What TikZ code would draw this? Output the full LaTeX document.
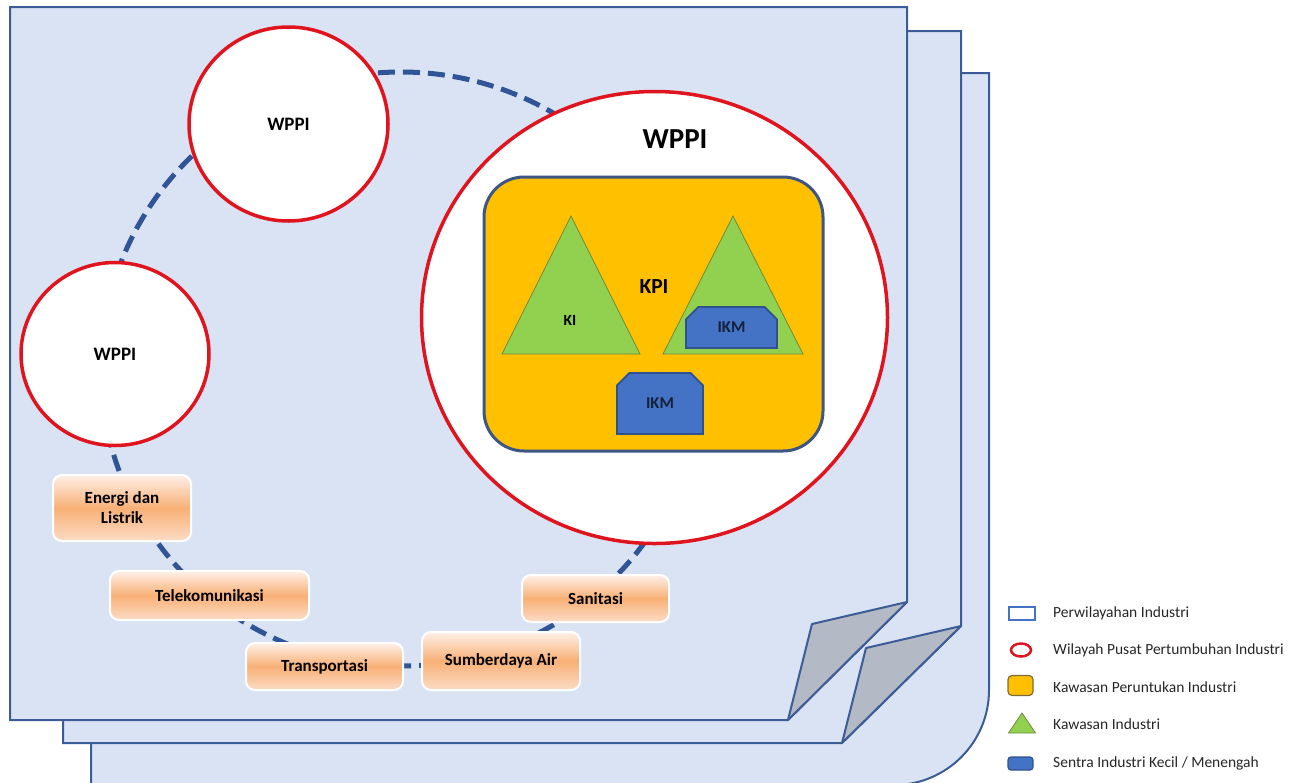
\documentclass[tikz,border=0pt]{standalone}
\usepackage{fontspec}
\setmainfont{Carlito}
\usetikzlibrary{shapes.geometric,shapes.misc}
\definecolor{pagefill}{HTML}{DAE3F3}
\definecolor{pageline}{HTML}{3B5C96}
\definecolor{flapfill}{HTML}{B4BAC5}
\definecolor{wppired}{HTML}{E0141E}
\definecolor{dashblue}{HTML}{2F5597}
\definecolor{kpiorange}{HTML}{FFC000}
\definecolor{kpiline}{HTML}{3E5684}
\definecolor{kigreen}{HTML}{92D050}
\definecolor{kiline}{HTML}{6E8B3D}
\definecolor{ikmblue}{HTML}{4472C4}
\definecolor{ikmline}{HTML}{2F528F}
\definecolor{ikmtext}{HTML}{15203A}
\definecolor{infratop}{HTML}{FEF0E8}
\definecolor{inframid}{HTML}{F8B076}
\definecolor{infrabot}{HTML}{FCDCC6}
\definecolor{legendgrey}{HTML}{262626}
\definecolor{legendbrown}{HTML}{7F6A3A}
\begin{document}
\begin{tikzpicture}[x=1pt,y=-1pt,
  sheet/.style={fill=pagefill,draw=pageline,line width=2pt,line join=miter},
  flap/.style={fill=flapfill,draw=pageline,line width=2pt,line join=round},
  ringpath/.style={ellipse,draw=dashblue,line width=5pt,dash pattern=on 17pt off 8pt,inner sep=0pt},
  wppi/.style={ellipse,draw=wppired,line width=3.5pt,fill=white,inner sep=0pt,
    font=\fontsize{19}{21}\selectfont\bfseries},
  infra/.style={rectangle,rounded corners=9pt,draw=white,line width=2pt,
    top color=infratop,bottom color=infrabot,middle color=inframid,
    inner sep=0pt,align=center,font=\fontsize{17}{20}\selectfont\bfseries},
  kpibox/.style={rectangle,rounded corners=40pt,fill=kpiorange,draw=kpiline,line width=3pt,inner sep=0pt},
  kitri/.style={fill=kigreen,draw=kiline,line width=0.8pt,line join=miter},
  ikm/.style={chamfered rectangle,chamfered rectangle corners={north west,north east},
    chamfered rectangle xsep=7pt,chamfered rectangle ysep=7pt,
    fill=ikmblue,draw=ikmline,line width=1.8pt,inner sep=0pt,
    font=\fontsize{16.5}{18}\selectfont\bfseries,text=ikmtext},
  legtext/.style={anchor=west,inner sep=0pt,font=\fontsize{15.5}{18}\selectfont,text=legendgrey},
]
\useasboundingbox (0,0) rectangle (1297,782);

% stacked sheets, back to front
\draw[sheet] (91,785) -- (91,73) -- (989,73) -- (989,690)
  .. controls (989,742.5) and (946.5,785) .. (894,785) -- cycle;
\draw[sheet] (63,743) -- (63,31) -- (961,31) -- (961,626) -- (842,743) -- cycle;
\draw[flap] (961,626) -- (866,648) -- (842,743) -- cycle;
\draw[sheet] (10,720) -- (10,7) -- (907,7) -- (907,602) -- (788,720) -- cycle;
\draw[flap] (907,602) -- (812,624) -- (788,720) -- cycle;

% dashed ring linking the growth centres and infrastructure
\node[ringpath,minimum width=600,minimum height=594] (ring) at (401,369) {};

% growth centre circles
\node[wppi,minimum width=199,minimum height=194] (wppiA) at (288.5,124) {WPPI};
\node[wppi,minimum width=188,minimum height=183] (wppiB) at (115,354) {WPPI};
\node[wppi,minimum width=466,minimum height=452] (wppiC) at (654.5,317.5) {};
\node[inner sep=0pt,font=\fontsize{29}{32}\selectfont\bfseries] (wppiCtitle) at (675,139) {WPPI};

% industrial allocation zone
\node[kpibox,minimum width=339,minimum height=274] (kpi) at (653.5,314) {};
\node[inner sep=0pt,font=\fontsize{21.5}{24}\selectfont\bfseries] (kpilabel) at (654,287) {KPI};

% industrial estates
\coordinate (kiA) at (571,216);
\coordinate (kiB) at (733,216);
\draw[kitri] (kiA) -- (640,354) -- (502,354) -- cycle;
\draw[kitri] (kiB) -- (803,354) -- (663,354) -- cycle;
\node[inner sep=0pt,font=\fontsize{15.5}{18}\selectfont\bfseries] (kilabel) at (570,320) {KI};

% small and medium industry centres
\node[ikm,minimum width=91,minimum height=41] (ikmA) at (731.5,327.5) {IKM};
\node[ikm,minimum width=86,minimum height=61] (ikmB) at (660,403.5) {IKM};

% infrastructure boxes
\node[infra,minimum width=138,minimum height=66] (energi) at (122,508) {Energi dan\\Listrik};
\node[infra,minimum width=199,minimum height=49] (telekom) at (209.5,595.5) {Telekomunikasi};
\node[infra,minimum width=157,minimum height=47] (transport) at (324.5,666.5) {Transportasi};
\node[infra,minimum width=158,minimum height=58] (air) at (501,661) {Sumberdaya Air};
\node[infra,minimum width=147,minimum height=47] (sanitasi) at (595.5,598.5) {Sanitasi};

% legend
\node[rectangle,draw=ikmblue,fill=white,line width=2pt,inner sep=0pt,minimum width=26,minimum height=13] (legA) at (1021.5,613.5) {};
\node[ellipse,draw=wppired,fill=white,line width=2.5pt,inner sep=0pt,minimum width=20,minimum height=13] (legB) at (1021,650) {};
\node[rectangle,rounded corners=4pt,draw=legendbrown,fill=kpiorange,line width=1.2pt,inner sep=0pt,minimum width=25,minimum height=20] (legC) at (1020.5,685.5) {};
\coordinate (legD) at (1022,713);
\draw[kitri] (legD) -- (1035.5,733) -- (1008.5,733) -- cycle;
\node[rectangle,rounded corners=3pt,draw=ikmline,fill=ikmblue,line width=1.2pt,inner sep=0pt,minimum width=25,minimum height=13] (legE) at (1020.5,763.5) {};

\node[legtext] (legAtext) at (1053,613) {Perwilayahan Industri};
\node[legtext] (legBtext) at (1053,650) {Wilayah Pusat Pertumbuhan Industri};
\node[legtext] (legCtext) at (1053,687) {Kawasan Peruntukan Industri};
\node[legtext] (legDtext) at (1053,724) {Kawasan Industri};
\node[legtext] (legEtext) at (1053,763) {Sentra Industri Kecil / Menengah};
\end{tikzpicture}
\end{document}
